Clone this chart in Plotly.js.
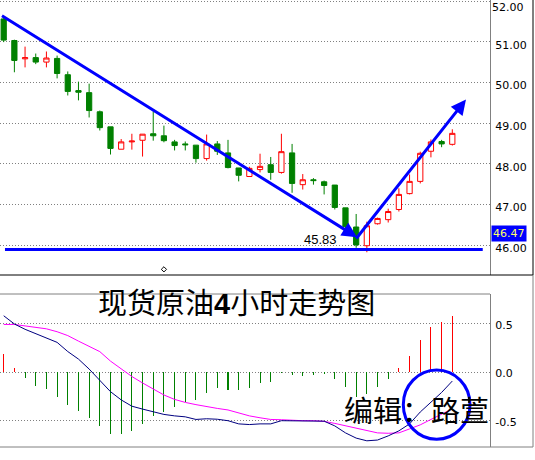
<!DOCTYPE html>
<html>
<head>
<meta charset="utf-8">
<script src="https://cdn.plot.ly/plotly-3.0.1.min.js"></script>
<style>html,body{margin:0;padding:0;background:#fff;}#chart{width:535px;height:460px;}</style>
</head>
<body>
<div id="chart"></div>
<script>
// ---- data ----
const openP  = [51.56,51.03,50.58,50.61,50.50,50.59,50.19,49.80,49.75,49.28,48.91,48.36,48.54,48.58,48.74,48.69,48.54,48.49,48.46,48.13,48.49,48.27,47.90,47.69,47.86,47.98,47.79,48.27,47.49,47.61,47.56,47.48,46.92,46.45,45.99,46.53,46.63,46.88,47.27,47.57,48.31,48.55,48.48];
const highP  = [51.62,51.05,50.88,50.71,50.76,50.66,50.27,50.02,49.97,49.31,48.91,48.61,48.74,48.73,49.29,48.94,48.59,48.55,48.46,48.72,48.56,48.59,47.90,47.93,48.25,48.17,48.74,48.49,47.75,47.65,47.59,47.48,46.92,46.77,46.58,46.68,46.90,47.40,47.74,48.30,48.60,48.59,48.85];
const lowP   = [50.99,50.25,50.37,50.45,50.37,50.10,49.68,49.56,49.14,48.82,48.23,48.36,48.35,48.18,48.57,48.53,48.33,48.33,48.03,48.08,48.22,47.89,47.57,47.69,47.79,47.61,47.76,47.29,47.37,47.49,47.25,46.88,46.38,45.94,45.83,46.51,46.56,46.83,47.25,47.52,48.16,48.41,48.45];
const closeP = [51.04,50.54,50.61,50.50,50.60,50.22,49.78,49.76,49.31,48.89,48.38,48.54,48.56,48.73,48.69,48.57,48.45,48.47,48.13,48.49,48.31,47.91,47.72,47.89,47.94,47.79,48.30,47.52,47.61,47.59,47.47,46.93,46.46,46.01,46.48,46.66,46.83,47.25,47.57,48.26,48.54,48.49,48.75];
const macdHist = [0.19,0.04,-0.056,-0.14,-0.175,-0.25,-0.34,-0.40,-0.47,-0.55,-0.64,-0.64,-0.605,-0.53,-0.45,-0.41,-0.355,-0.31,-0.29,-0.21,-0.165,-0.18,-0.18,-0.165,-0.11,-0.10,-0.01,-0.03,-0.035,-0.03,-0.02,-0.07,-0.15,-0.25,-0.22,-0.155,-0.07,0.05,0.17,0.33,0.47,0.52,0.58];
const macdLine = [0.585,0.50,0.445,0.40,0.36,0.31,0.215,0.137,0.034,-0.08,-0.20,-0.285,-0.35,-0.38,-0.41,-0.435,-0.45,-0.46,-0.487,-0.48,-0.485,-0.50,-0.533,-0.54,-0.533,-0.533,-0.50,-0.50,-0.50,-0.50,-0.505,-0.554,-0.626,-0.68,-0.708,-0.70,-0.657,-0.605,-0.533,-0.41,-0.306,-0.208,-0.09];
const signalLine = [0.495,0.495,0.48,0.467,0.45,0.42,0.38,0.323,0.27,0.214,0.116,0.034,-0.043,-0.11,-0.175,-0.234,-0.28,-0.311,-0.334,-0.355,-0.373,-0.389,-0.42,-0.45,-0.47,-0.487,-0.49,-0.497,-0.50,-0.50,-0.507,-0.528,-0.554,-0.58,-0.605,-0.626,-0.63,-0.626,-0.585,-0.543,-0.487,-0.43,-0.378];
const priceTicks = [46,47,48,49,50,51,52];
const priceTickText = ['46.00','47.00','48.00','49.00','50.00','51.00',''];
const topTickText = '52.00';
const macdTicks = [-0.5,0,0.5];
const macdTickText = ['-0.5','0.0','0.5'];
const lowLabel = '45.83';
const lastPriceLabel = '46.47';
const titleText = '现货原油<b>4</b>小时走势图';
const editorText = '编辑：路萱';
const markIdx = [15];
const markPrice = [45.41];

// ---- drawing ----
const idx = openP.map((_, i) => i);
const blue = '#0000ff';
const fontTick = {family: 'DejaVu Sans', size: 11, color: '#000'};
const cjk = 'Liberation Sans, Noto Sans CJK SC';

const traces = [
  {type: 'candlestick', x: idx, open: openP, high: highP, low: lowP, close: closeP,
   xaxis: 'x', yaxis: 'y', whiskerwidth: 0, hoverinfo: 'skip',
   increasing: {line: {color: '#ff0000', width: 1}, fillcolor: '#ffffff'},
   decreasing: {line: {color: '#008000', width: 1}, fillcolor: '#008000'}},
  {type: 'scatter', mode: 'markers', x: markIdx, y: markPrice, xaxis: 'x', yaxis: 'y',
   marker: {symbol: 'diamond-open', size: 4, color: '#000', line: {width: 1}}, hoverinfo: 'skip'},
  {type: 'bar', x: idx, y: macdHist, xaxis: 'x2', yaxis: 'y2', width: 0.1,
   marker: {color: macdHist.map(v => v >= 0 ? '#ff0000' : '#008000'), line: {width: 0}}, hoverinfo: 'skip'},
  {type: 'scatter', mode: 'lines', x: idx, y: signalLine, xaxis: 'x2', yaxis: 'y2',
   line: {color: '#ff00ff', width: 1}, hoverinfo: 'skip'},
  {type: 'scatter', mode: 'lines', x: idx, y: macdLine, xaxis: 'x2', yaxis: 'y2',
   line: {color: '#000080', width: 1}, hoverinfo: 'skip'}
];

const xr = [-0.346, 45.53];
const yTop = 1 - 275/447, yBot = 153/447, xFrame = 533/490;
const layout = {
  width: 535, height: 460,
  margin: {l: 0, r: 45, t: 0, b: 13},
  paper_bgcolor: '#fff', plot_bgcolor: '#fff',
  showlegend: false, dragmode: false, bargap: 0,
  xaxis: {domain: [0, 1], range: xr, anchor: 'y', visible: false, rangeslider: {visible: false}, fixedrange: true},
  xaxis2: {domain: [0, 1], range: xr, anchor: 'y2', visible: false, fixedrange: true},
  yaxis: {domain: [yTop, 1], range: [45.271, 52.025], side: 'right', anchor: 'x',
    tickvals: priceTicks, ticktext: priceTickText, tickfont: fontTick, ticks: '',
    ticklabelshift: 3, ticklabelstandoff: 2, ticklabeloverflow: 'allow',
    showgrid: true, gridcolor: '#808080', griddash: '1px,2px', gridwidth: 1,
    zeroline: false, showline: true, linecolor: '#808080', linewidth: 1, fixedrange: true},
  yaxis2: {domain: [0, yBot], range: [-0.772, 0.81], side: 'right', anchor: 'x2',
    tickvals: macdTicks, ticktext: macdTickText, tickfont: fontTick, ticks: '',
    ticklabelshift: 1, ticklabelstandoff: 2, ticklabeloverflow: 'allow',
    showgrid: true, gridcolor: '#808080', griddash: '1px,2px', gridwidth: 1,
    zeroline: false, showline: true, linecolor: '#808080', linewidth: 1, fixedrange: true},
  shapes: [
    {type: 'line', xref: 'paper', yref: 'paper', x0: 0, x1: xFrame, y0: yTop, y1: yTop, line: {color: '#000', width: 1}},
    {type: 'line', xref: 'paper', yref: 'paper', x0: xFrame, x1: xFrame, y0: yTop, y1: 1, line: {color: '#000', width: 1}},
    {type: 'line', xref: 'paper', yref: 'paper', x0: xFrame, x1: xFrame, y0: 0, y1: yTop, line: {color: '#808080', width: 1}},
    {type: 'line', xref: 'paper', yref: 'paper', x0: 0, x1: 1, y0: yBot, y1: yBot, line: {color: '#808080', width: 1}},
    {type: 'line', xref: 'paper', yref: 'paper', x0: 0, x1: xFrame, y0: 0, y1: 0, line: {color: '#808080', width: 1}},
    {type: 'line', xref: 'x', yref: 'y', x0: 0.12, x1: 44.85, y0: 45.897, y1: 45.897, line: {color: blue, width: 3}},
    {type: 'circle', xref: 'paper', yref: 'paper', x0: 403.3/490, x1: 470/490, y0: 7.7/447, y1: 77/447, line: {color: blue, width: 3}}
  ],
  annotations: [
    {xref: 'x', yref: 'y', x: 33.08, y: 46.20, ax: -0.3, ay: 51.66, axref: 'x', ayref: 'y',
     showarrow: true, arrowhead: 2, arrowsize: 1, arrowwidth: 3, arrowcolor: blue, text: ''},
    {xref: 'x', yref: 'y', x: 43.28, y: 49.58, ax: 32.9, ay: 46.13, axref: 'x', ayref: 'y',
     showarrow: true, arrowhead: 2, arrowsize: 1, arrowwidth: 3, arrowcolor: blue, text: ''},
    {xref: 'x', yref: 'y', x: 29.7, y: 46.155, xanchor: 'center', yanchor: 'middle', text: lowLabel, showarrow: false,
     font: {family: 'Liberation Sans', size: 13, color: '#000'}},
    {xref: 'paper', yref: 'paper', x: 1, y: 1, xanchor: 'left', yanchor: 'top', xshift: 1, text: topTickText, showarrow: false,
     borderpad: 0, font: fontTick},
    {xref: 'paper', yref: 'y', x: 1, y: 46.285, xanchor: 'left', yanchor: 'middle', xshift: 1, text: lastPriceLabel, showarrow: false,
     bgcolor: blue, borderpad: 1, font: {family: 'DejaVu Sans', size: 11, color: '#ffff66'}},
    {xref: 'paper', yref: 'paper', x: 236.7/490, y: (447-303.5)/447, xanchor: 'center', yanchor: 'middle', text: titleText, showarrow: false,
     font: {family: cjk, size: 29, color: '#000'}},
    {xref: 'paper', yref: 'paper', x: 416/490, y: (447-411.5)/447, xanchor: 'center', yanchor: 'middle', text: editorText, showarrow: false,
     font: {family: cjk, size: 29, color: '#000'}}
  ]
};

Plotly.newPlot('chart', traces, layout, {staticPlot: true, displayModeBar: false});
</script>
</body>
</html>
